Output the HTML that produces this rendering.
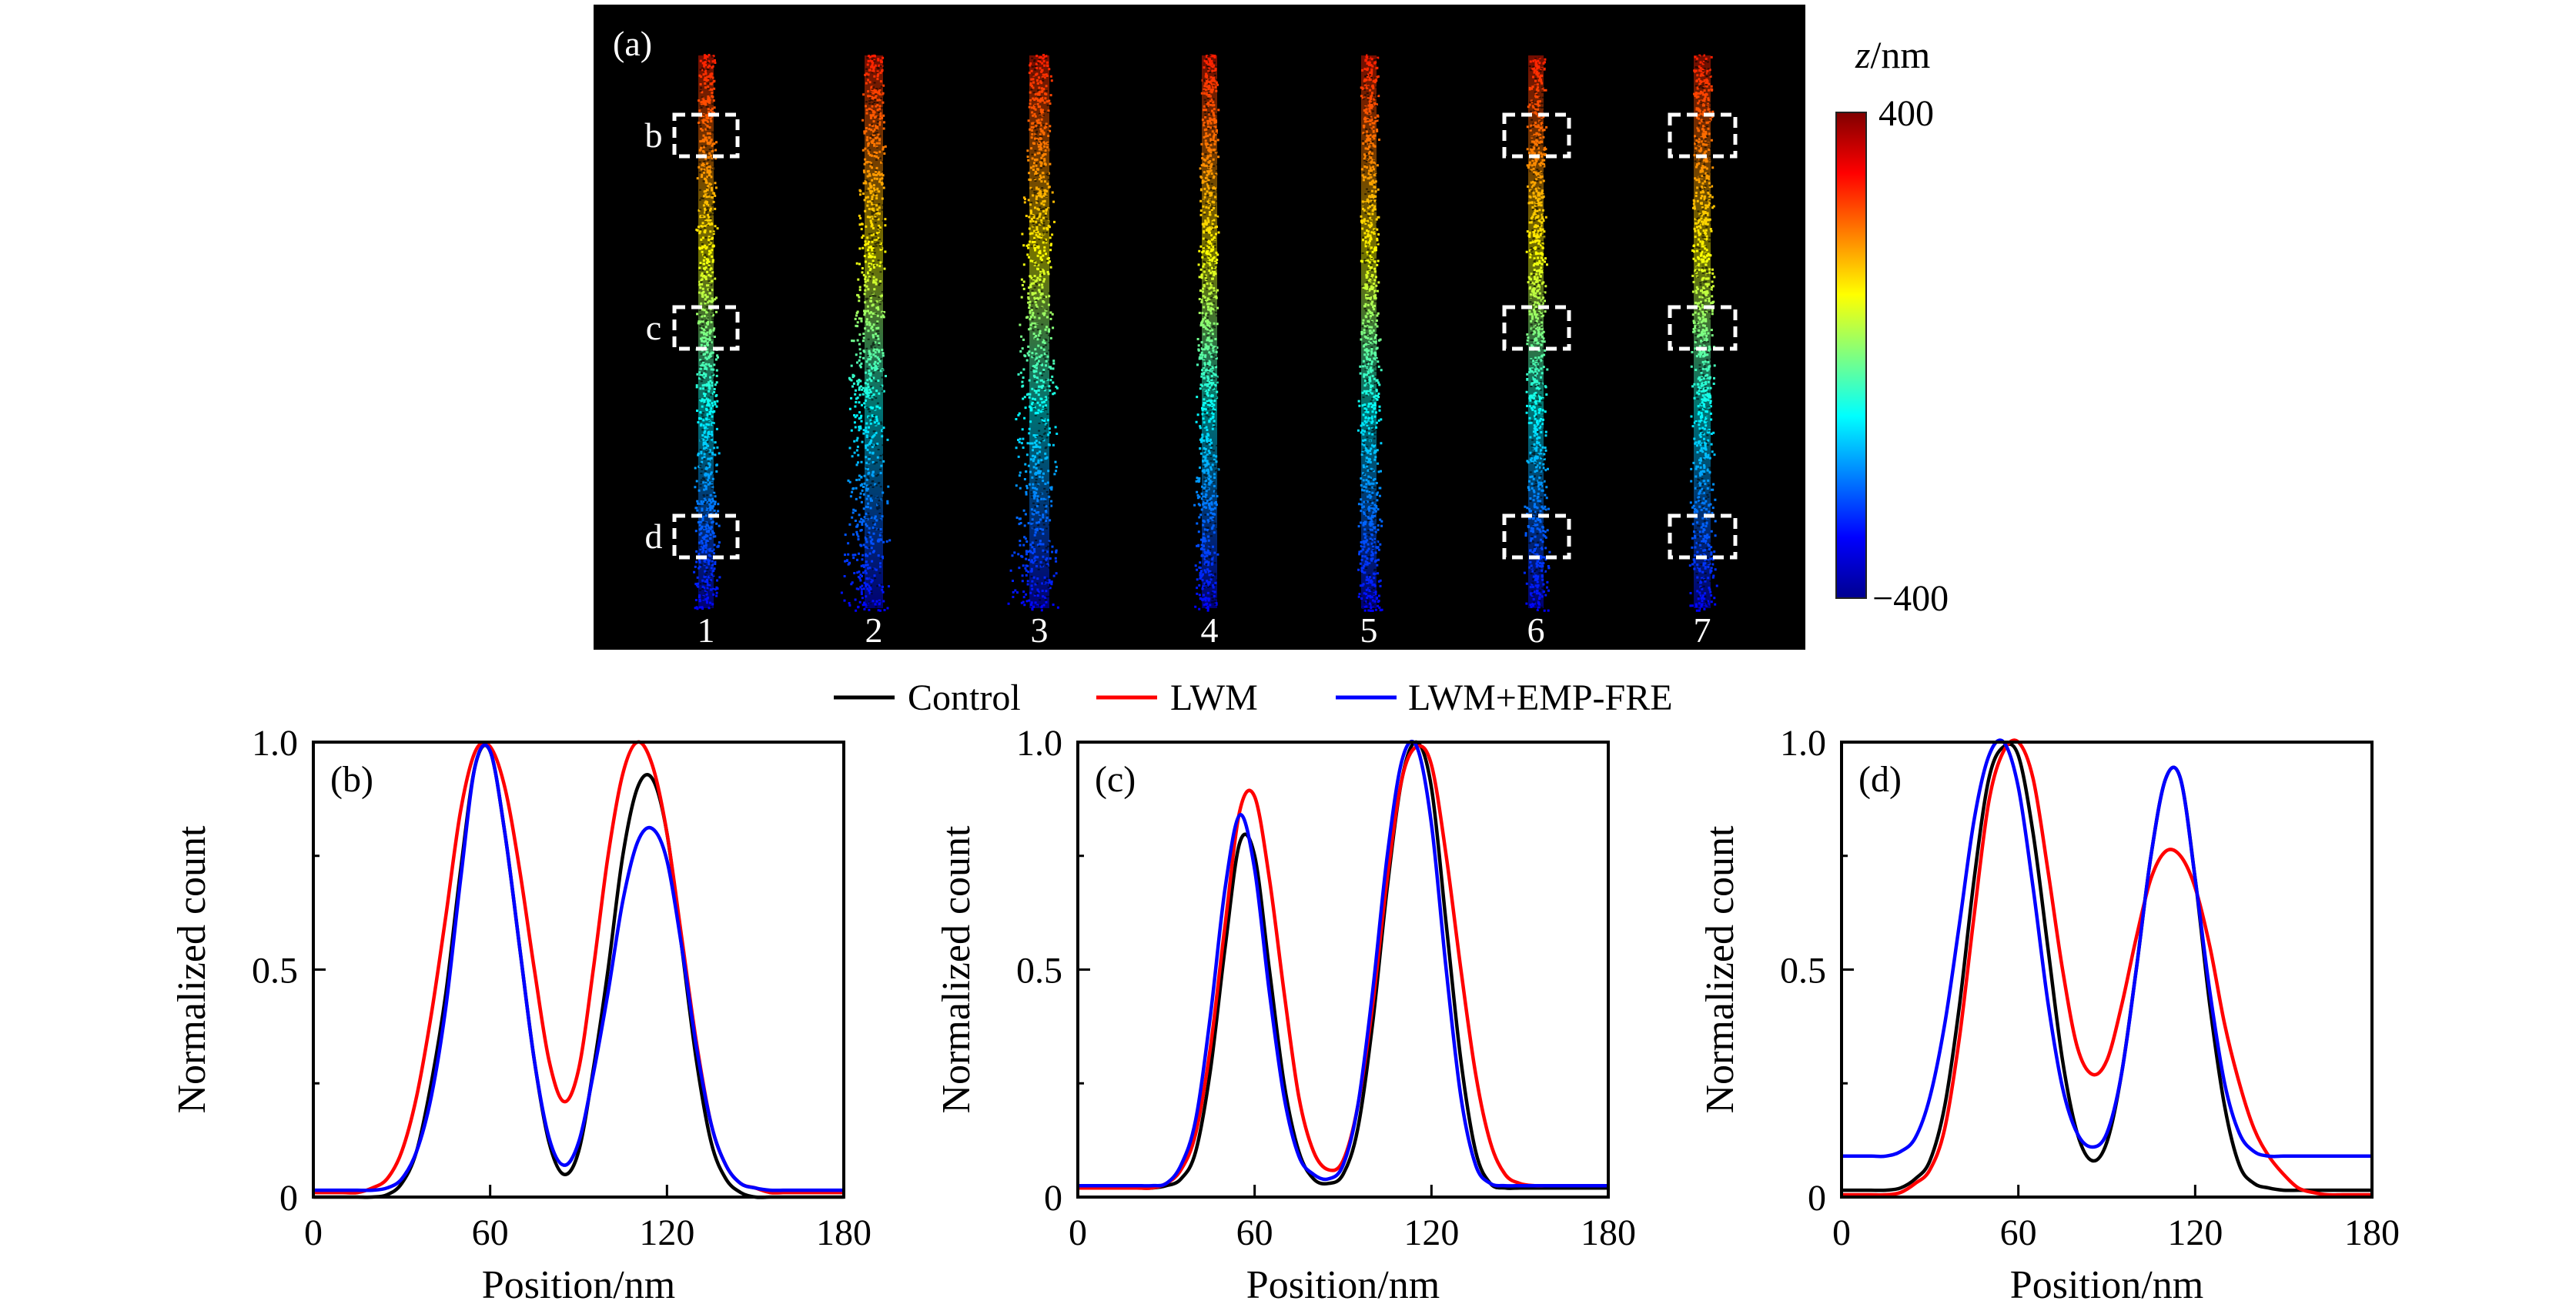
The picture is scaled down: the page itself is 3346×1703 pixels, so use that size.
<!DOCTYPE html>
<html><head><meta charset="utf-8">
<style>
html,body{margin:0;padding:0;background:#fff;}
svg{display:block;font-family:"Liberation Serif",serif;}
</style></head>
<body>
<svg id="fig" width="3346" height="1703" viewBox="0 0 3346 1703" xmlns="http://www.w3.org/2000/svg">
<defs>
<linearGradient id="jetbar" x1="0" y1="0" x2="0" y2="1">
<stop offset="0" stop-color="#800000"/><stop offset="0.125" stop-color="#ff0000"/>
<stop offset="0.375" stop-color="#ffff00"/><stop offset="0.625" stop-color="#00ffff"/>
<stop offset="0.875" stop-color="#0000ff"/><stop offset="1" stop-color="#00008f"/>
</linearGradient>
<linearGradient id="strandg" gradientUnits="userSpaceOnUse" x1="0" y1="70" x2="0" y2="792">
<stop offset="0" stop-color="#ff1a00"/><stop offset="0.18" stop-color="#ff8000"/>
<stop offset="0.36" stop-color="#ffff00"/><stop offset="0.5" stop-color="#80ff80"/>
<stop offset="0.64" stop-color="#00ffff"/><stop offset="0.8" stop-color="#0080ff"/>
<stop offset="1" stop-color="#0000ff"/>
</linearGradient>
</defs>
<g id="panelA">
<rect x="771" y="6" width="1574" height="838" fill="#000"/>
<text x="796" y="72" font-size="46" fill="#fff">(a)</text>
<g id="strands"></g>
<g id="boxes"></g>
<rect x="2385" y="146" width="39" height="631" fill="url(#jetbar)" stroke="#222" stroke-width="2"/>
<text x="2410" y="88" font-size="50"><tspan font-style="italic">z</tspan>/nm</text>
<text x="2440" y="163" font-size="48">400</text>
<text x="2432" y="793" font-size="48">−400</text>
</g>
<g id="legend">
<line x1="1083" y1="906" x2="1162" y2="906" stroke="#000" stroke-width="5"/>
<text x="1179" y="922" font-size="48">Control</text>
<line x1="1424" y1="906" x2="1503" y2="906" stroke="#f00" stroke-width="5"/>
<text x="1520" y="922" font-size="48">LWM</text>
<line x1="1735" y1="906" x2="1814" y2="906" stroke="#00f" stroke-width="5"/>
<text x="1829" y="922" font-size="48">LWM+EMP-FRE</text>
</g>
<g id="plots"></g>
</svg>
<script>
const positions=[0,5,10,15,20,25,30,35,40,45,50,55,60,65,70,75,80,85,90,95,100,105,110,115,120,125,130,135,140,145,150,155,160,165,170,175,180];
const xTicks=[0,60,120,180];
const yTickLabels=["0","0.5","1.0"];
const yTickValues=[0,0.5,1];
const panelLabels=["(b)","(c)","(d)"];
const seriesNames=["control","lwm","lwm-emp-fre"];
const seriesColors=["#000","#f00","#00f"];
const bControl=[0,0,0,0,0,0.005,0.03,0.1,0.25,0.45,0.72,0.95,0.98,0.8,0.55,0.3,0.12,0.05,0.1,0.28,0.5,0.75,0.9,0.92,0.8,0.55,0.3,0.12,0.04,0.01,0,0,0,0,0,0,0];
const bLwm=[0.01,0.01,0.01,0.01,0.02,0.04,0.1,0.22,0.4,0.62,0.85,0.98,0.99,0.9,0.72,0.5,0.3,0.21,0.28,0.5,0.75,0.93,1.0,0.95,0.8,0.57,0.34,0.16,0.07,0.03,0.02,0.01,0.01,0.01,0.01,0.01,0.01];
const bEmp=[0.015,0.015,0.015,0.015,0.015,0.02,0.04,0.1,0.22,0.42,0.7,0.95,0.98,0.8,0.55,0.3,0.13,0.07,0.12,0.27,0.45,0.65,0.78,0.81,0.74,0.55,0.33,0.16,0.07,0.03,0.02,0.015,0.015,0.015,0.015,0.015,0.015];
const cControl=[0.02,0.02,0.02,0.02,0.02,0.02,0.025,0.04,0.1,0.28,0.55,0.78,0.75,0.5,0.25,0.1,0.04,0.03,0.05,0.15,0.38,0.68,0.92,1.0,0.9,0.6,0.3,0.1,0.03,0.02,0.02,0.02,0.02,0.02,0.02,0.02,0.02];
const cLwm=[0.02,0.02,0.02,0.02,0.02,0.02,0.03,0.06,0.14,0.33,0.6,0.85,0.88,0.7,0.45,0.22,0.1,0.06,0.08,0.2,0.42,0.7,0.92,0.99,0.95,0.75,0.5,0.27,0.12,0.05,0.03,0.025,0.025,0.025,0.025,0.025,0.025];
const cEmp=[0.025,0.025,0.025,0.025,0.025,0.025,0.03,0.07,0.17,0.4,0.68,0.84,0.72,0.45,0.22,0.09,0.05,0.04,0.07,0.2,0.45,0.75,0.96,0.99,0.82,0.5,0.22,0.07,0.03,0.025,0.025,0.025,0.025,0.025,0.025,0.025,0.025];
const dControl=[0.015,0.015,0.015,0.015,0.02,0.04,0.08,0.2,0.42,0.7,0.92,0.99,0.97,0.8,0.55,0.3,0.14,0.08,0.12,0.27,0.5,0.75,0.92,0.92,0.7,0.42,0.2,0.07,0.03,0.02,0.015,0.015,0.015,0.015,0.015,0.015,0.015];
const dLwm=[0.005,0.005,0.005,0.005,0.01,0.03,0.06,0.15,0.35,0.62,0.87,0.98,1.0,0.92,0.72,0.5,0.33,0.27,0.3,0.42,0.57,0.7,0.76,0.75,0.68,0.55,0.38,0.25,0.15,0.09,0.05,0.02,0.01,0.005,0.005,0.005,0.005];
const dEmp=[0.09,0.09,0.09,0.09,0.1,0.13,0.22,0.38,0.6,0.83,0.97,1.0,0.9,0.68,0.43,0.24,0.14,0.11,0.14,0.27,0.5,0.75,0.92,0.92,0.7,0.45,0.25,0.14,0.1,0.09,0.09,0.09,0.09,0.09,0.09,0.09,0.09];
const panelSeries=[[bControl,bLwm,bEmp],[cControl,cLwm,cEmp],[dControl,dLwm,dEmp]];

const NS="http://www.w3.org/2000/svg";
function mk(tag,attrs,parent){const e=document.createElementNS(NS,tag);for(const k in attrs)e.setAttribute(k,attrs[k]);parent.appendChild(e);return e;}
const PW=689,PH=591,PT=964,lefts=[407,1400,2392];
const plots=document.getElementById('plots');
function smoothPath(pts){let d="M"+pts[0][0].toFixed(1)+","+pts[0][1].toFixed(1);
for(let i=0;i<pts.length-1;i++){const p0=pts[Math.max(0,i-1)],p1=pts[i],p2=pts[i+1],p3=pts[Math.min(pts.length-1,i+2)];
const c1x=p1[0]+(p2[0]-p0[0])/6,c1y=p1[1]+(p2[1]-p0[1])/6,c2x=p2[0]-(p3[0]-p1[0])/6,c2y=p2[1]-(p3[1]-p1[1])/6;
d+=" C"+c1x.toFixed(1)+","+c1y.toFixed(1)+" "+c2x.toFixed(1)+","+c2y.toFixed(1)+" "+p2[0].toFixed(1)+","+p2[1].toFixed(1);}return d;}
panelSeries.forEach((ser,pi)=>{
  const L=lefts[pi];
  const xs=v=>L+v/180*PW, ys=v=>PT+PH-v*PH;
  const g=mk('g',{},plots);
  
  
  ser.forEach((vals,si)=>{
    const pts=vals.map((v,i)=>[xs(positions[i]),ys(v)]);
    const p=mk('path',{d:smoothPath(pts),fill:'none',stroke:seriesColors[si],'stroke-width':4.5},g);
    
    
  });
  const fr=mk('rect',{x:L,y:PT,width:PW,height:PH,fill:'none',stroke:'#000','stroke-width':4},g);
  
  
  xTicks.forEach(t=>{
    if(t>0&&t<180){const tl=mk('line',{x1:xs(t),x2:xs(t),y1:PT+PH,y2:PT+PH-16,stroke:'#000','stroke-width':3},g);
    
    }
    const tx=mk('text',{x:xs(t),y:PT+PH+62,'font-size':48,'text-anchor':'middle'},g);
    tx.textContent=String(t);
    
    
  });
  [0.25,0.5,0.75].forEach(t=>{const ln=mk('line',{x1:L,x2:L+(t===0.5?16:8),y1:ys(t),y2:ys(t),stroke:'#000','stroke-width':3},g);
    
    });
  yTickValues.forEach((t,i)=>{const tx=mk('text',{x:L-20,y:ys(t)+17,'font-size':48,'text-anchor':'end'},g);
    tx.textContent=yTickLabels[i];
    
    });
  const xt=mk('text',{x:L+PW/2,y:1686,'font-size':52,'text-anchor':'middle'},g);
  xt.textContent="Position/nm";
  
  
  const cx=L-159;
  const yt=mk('text',{x:cx,y:PT+PH/2,'font-size':52,'text-anchor':'middle',transform:'rotate(-90 '+cx+' '+(PT+PH/2)+') translate(0 18)'},g);
  yt.textContent="Normalized count";
  
  
  const pl=mk('text',{x:L+22,y:PT+64,'font-size':48},g);
  pl.textContent=panelLabels[pi];
  
  
});

// panel (a) strands (image texture)
const strandX=[917,1135,1350,1571,1778,1995,2211];
const strandW=[24,28,30,24,24,24,26];
const strandLean=[0,-14,-8,-6,0,0,0];
const sg=document.getElementById('strands');
let seed=7;function rnd(){seed=(seed*16807)%2147483647;return seed/2147483647;}
strandX.forEach((x,i)=>{
  const g=mk('g',{},sg);
  
  
  mk('rect',{x:x-strandW[i]/2+2,y:72,width:strandW[i]-4,height:718,fill:'url(#strandg)',opacity:0.45},g);
  let d="";
  for(let k=0;k<900;k++){const y=70+rnd()*722;const f=(y-70)/722;const spread=strandW[i]/2+f*((i===1||i===2)?22:6);
    const xx=x+strandLean[i]*f+(rnd()+rnd()-1)*spread;d+="M"+xx.toFixed(1)+","+y.toFixed(1)+"h3v3h-3z";}
  mk('path',{d:d,fill:'url(#strandg)'},g);
  let d2="";
  for(let k=0;k<260;k++){const y=70+rnd()*722;const xx=x+(rnd()-0.5)*strandW[i]*0.8;d2+="M"+xx.toFixed(1)+","+y.toFixed(1)+"h3v2h-3z";}
  mk('path',{d:d2,fill:'#000',opacity:0.6},g);
  const n=mk('text',{x:x,y:834,'font-size':46,fill:'#fff','text-anchor':'middle'},g);
  n.textContent=String(i+1);
  
  
});
const bg=document.getElementById('boxes');
const boxYs=[149,399,670],boxLbl=["b","c","d"];
[[876,958],[1954,2038],[2169,2254]].forEach((bx,j)=>{
  boxYs.forEach((by,k)=>{
    const r=mk('rect',{x:bx[0],y:by,width:bx[1]-bx[0],height:54,fill:'none',stroke:'#fff','stroke-width':5,'stroke-dasharray':'14 8'},bg);
    
    
  });
});
boxYs.forEach((by,k)=>{const t=mk('text',{x:849,y:by+42,'font-size':46,fill:'#fff','text-anchor':'middle'},bg);
  t.textContent=boxLbl[k];
  
  });
</script>
</body></html>
